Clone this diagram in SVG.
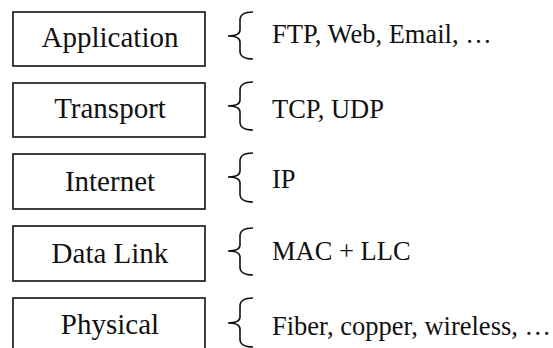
<svg xmlns="http://www.w3.org/2000/svg" width="553" height="348" viewBox="0 0 553 348">
<style>
.box{fill:#fff;stroke:#111;stroke-width:1.6}
.lbl{font-size:29px;fill:#111;text-anchor:middle}
.txt{font-size:26.5px;fill:#111}
.br{fill:none;stroke:#111;stroke-width:1.6}
</style>
<rect width="553" height="348" fill="#fff"/>
<g font-family="'Liberation Serif', 'Times New Roman', 'DejaVu Serif', serif">
<g id="application">
<rect class="box" x="13" y="12" width="192" height="54"/>
<text class="lbl" x="110" y="47">Application</text>
</g>
<g id="transport">
<rect class="box" x="13" y="83" width="192" height="54"/>
<text class="lbl" x="110" y="118">Transport</text>
</g>
<g id="internet">
<rect class="box" x="13" y="154" width="192" height="55"/>
<text class="lbl" x="110" y="191">Internet</text>
</g>
<g id="datalink">
<rect class="box" x="13" y="226" width="192" height="55"/>
<text class="lbl" x="110" y="263">Data Link</text>
</g>
<g id="physical">
<rect class="box" x="13" y="298" width="192" height="60"/>
<text class="lbl" x="110" y="334">Physical</text>
</g>
<g id="connectors">
<path class="br" d="M253 12 Q240 12 240 20 L240 30 Q240 36 228 36 Q240 36 240 42 L240 51 Q240 59 253 59"/>
<path class="br" d="M253 82 Q240 82 240 90 L240 100 Q240 106 228 106 Q240 106 240 112 L240 122 Q240 130 253 130"/>
<path class="br" d="M253 153 Q240 153 240 161 L240 171 Q240 177 228 177 Q240 177 240 183 L240 194 Q240 202 253 202"/>
<path class="br" d="M253 228 Q240 228 240 236 L240 245 Q240 251 228 251 Q240 251 240 257 L240 267 Q240 275 253 275"/>
<path class="br" d="M253 298 Q240 298 240 306 L240 317 Q240 323 228 323 Q240 323 240 329 L240 339 Q240 347 253 347"/>
</g>
<g id="labels">
<text class="txt" x="272" y="43">FTP, Web, Email, …</text>
<text class="txt" x="272" y="118">TCP, UDP</text>
<text class="txt" x="272" y="188">IP</text>
<text class="txt" x="272" y="260">MAC + LLC</text>
<text class="txt" x="272" y="335">Fiber, copper, wireless, …</text>
</g>
</g>
</svg>
